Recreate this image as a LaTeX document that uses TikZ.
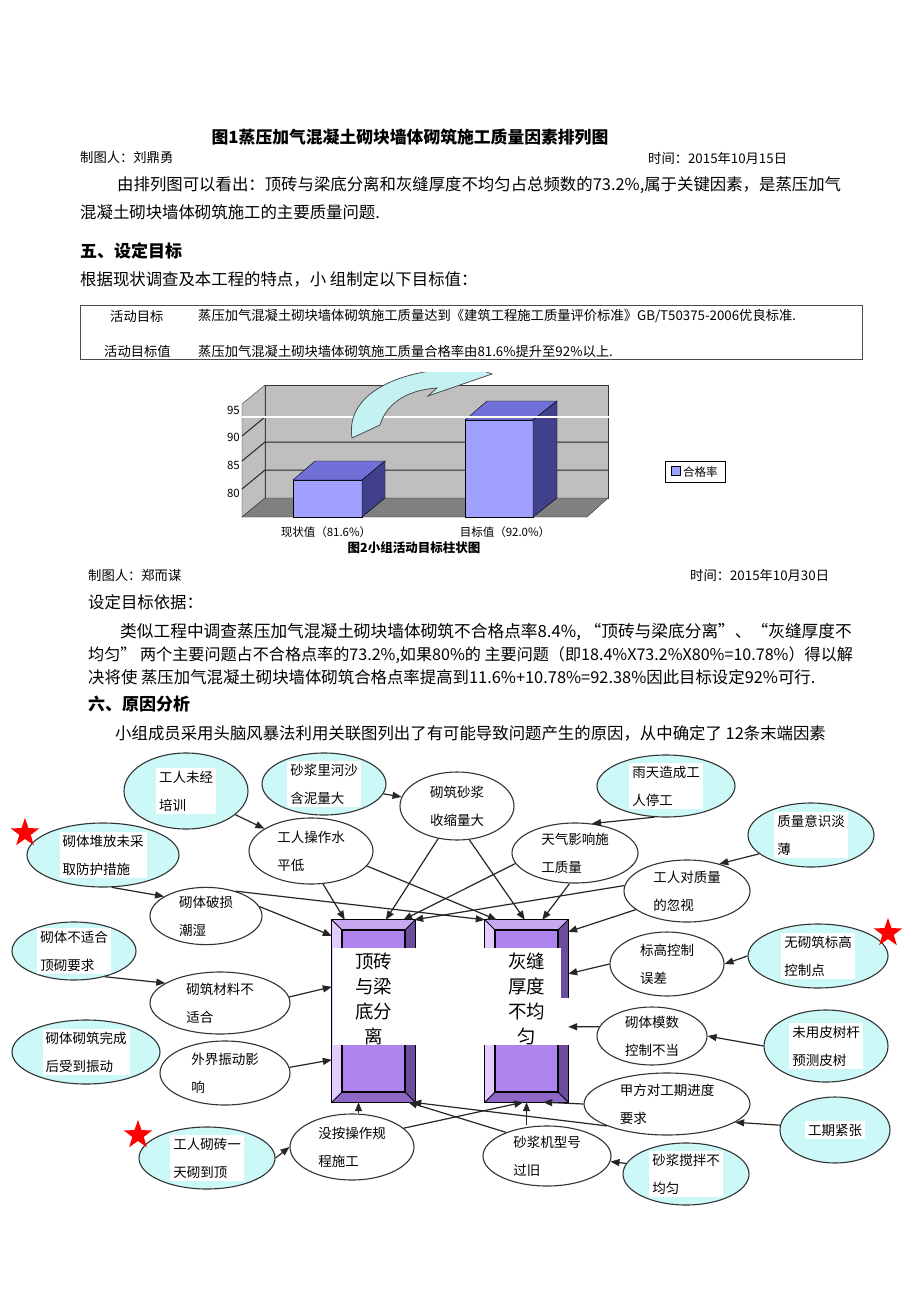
\documentclass[tikz,border=0pt]{standalone}
\usepackage{fontspec}
\setmainfont{Noto Sans CJK SC}
\usetikzlibrary{shapes.geometric,arrows.meta,calc}

\definecolor{causecyan}{HTML}{CCF8F8}
\definecolor{barfront}{HTML}{A0A0FF}
\definecolor{bartop}{HTML}{7070D8}
\definecolor{barside}{HTML}{40408C}
\definecolor{bvtop}{HTML}{C8A8F0}
\definecolor{bvleft}{HTML}{E2CCFF}
\definecolor{bvright}{HTML}{6C4C9C}
\definecolor{bvbot}{HTML}{8E66C6}
\definecolor{bvface}{HTML}{B084EE}
\definecolor{arrowcyan}{HTML}{C4F2F2}

\tikzset{
  cause/.style={ellipse, draw=black!80, line width=1.1pt, fill=white, inner sep=0pt,
    font=\fontsize{13.5}{28}\selectfont, align=left},
  rootcause/.style={cause, fill=causecyan},
  wlabel/.style={fill=white, inner sep=3pt, font=\fontsize{13.5}{28}\selectfont, align=left},
  arr/.style={-{Triangle[length=9pt,width=7pt]}, line width=1.2pt, draw=black!85},
  redstar/.style={star, star points=5, star point ratio=2.5, fill=red, minimum size=30pt, inner sep=0pt},
  probbox/.style={rectangle, minimum width=83pt, minimum height=182pt, inner sep=0pt},
  probtext/.style={fill=white, align=center, font=\fontsize{18.5}{25}\selectfont, inner sep=0pt},
  body/.style={anchor=west, inner sep=0pt, font=\fontsize{16.4}{20}\selectfont},
  small/.style={anchor=west, inner sep=0pt, font=\fontsize{13.3}{16}\selectfont},
  head/.style={anchor=west, inner sep=0pt, font=\bfseries\fontsize{17}{20}\selectfont},
  chartlbl/.style={inner sep=0pt, font=\fontsize{11.5}{14}\selectfont},
}

\begin{document}
\begin{tikzpicture}[x=1pt,y=-1pt]
\useasboundingbox (0,0) rectangle (920,1302);
\fill[white] (0,0) rectangle (920,1302);

% report text
\node[inner sep=0pt, font=\bfseries\fontsize{16.8}{18}\selectfont] (fig1) at (410,137) {图1蒸压加气混凝土砌块墙体砌筑施工质量因素排列图};
\node[small] (maker1) at (80,158) {制图人：刘鼎勇};
\node[small] (date1) at (648,158) {时间：2015年10月15日};
\node[body] (par1a) at (117,185) {由排列图可以看出：顶砖与梁底分离和灰缝厚度不均匀占总频数的73.2\%,属于关键因素，是蒸压加气};
\node[body] (par1b) at (80,212) {混凝土砌块墙体砌筑施工的主要质量问题.};
\node[head] (sec5) at (80,251) {五、设定目标};
\node[body] (par2) at (80,279) {根据现状调查及本工程的特点，小 组制定以下目标值：};

% target table
\draw[black!70, line width=0.8pt] (80,305) rectangle (862,359);
\node[small] (goalkey) at (110,316) {活动目标};
\node[small] (goaltxt) at (198,316) {蒸压加气混凝土砌块墙体砌筑施工质量达到《建筑工程施工质量评价标准》GB/T50375-2006优良标准.};
\node[small] (valkey) at (104,351) {活动目标值};
\node[small] (valtxt) at (198,351) {蒸压加气混凝土砌块墙体砌筑施工质量合格率由81.6\%提升至92\%以上.};

% bar chart
\filldraw[fill=gray!50, draw=black!80] (265,385) rectangle (608,498);
\filldraw[fill=gray!50, draw=black!80] (242,404) -- (265,385) -- (265,498) -- (242,517) -- cycle;
\filldraw[fill=gray, draw=black!80] (242,517) -- (265,498) -- (608,498) -- (587,517) -- cycle;
\foreach \g in {417,442,470}
  \draw[line width=1pt, black!85] (242,\g+19) -- (265,\g) -- (608,\g);
\foreach \v/\g in {95/410,90/437,85/465,80/493}
  \node[chartlbl, anchor=east] (tick\v) at (240,\g) {\v};
% bars
\filldraw[fill=barfront, draw=black] (293,480) rectangle (362,517);
\filldraw[fill=bartop, draw=black] (293,480) -- (315,461) -- (385,461) -- (362,480) -- cycle;
\filldraw[fill=barside, draw=black] (362,480) -- (385,461) -- (385,498) -- (362,517) -- cycle;
\filldraw[fill=barfront, draw=black] (465,420) rectangle (533,517);
\filldraw[fill=bartop, draw=black] (465,420) -- (487,401) -- (557,401) -- (533,420) -- cycle;
\filldraw[fill=barside, draw=black] (533,420) -- (557,401) -- (557,498) -- (533,517) -- cycle;
\draw[white, line width=1.6pt] (242,417) -- (610,417);
% curved arrow
\begin{scope}
  \clip (200,372) rectangle (700,560);
  \filldraw[fill=arrowcyan, draw=black!70, line width=0.8pt]
    (352,438) .. controls (346,400) and (385,376) .. (438,370) -- (440,355) -- (492,374)
    -- (428,396) -- (437,388) .. controls (405,390) and (386,405) .. (380,425) -- cycle;
\end{scope}
\draw[black, line width=0.8pt] (665,461) rectangle (725,482);
\filldraw[fill=barfront, draw=black] (671,466) rectangle (680,475);
\node[chartlbl, anchor=west] (legend) at (683,472) {合格率};
\node[chartlbl] (cat1) at (326,532) {现状值（81.6\%）};
\node[chartlbl] (cat2) at (505,532) {目标值（92.0\%）};
\node[inner sep=0pt, font=\bfseries\fontsize{12.5}{14}\selectfont] (fig2) at (414,548) {图2小组活动目标柱状图};

\node[small] (maker2) at (88,575) {制图人：郑而谋};
\node[small] (date2) at (690,575) {时间：2015年10月30日};
\node[body] (basis) at (88,602) {设定目标依据：};
\node[body, font=\fontsize{16.7}{20}\selectfont] (par3a) at (120,632) {类似工程中调查蒸压加气混凝土砌块墙体砌筑不合格点率8.4\%, “顶砖与梁底分离”、“灰缝厚度不};
\node[body, font=\fontsize{16.1}{20}\selectfont] (par3b) at (88,655) {均匀” 两个主要问题占不合格点率的73.2\%,如果80\%的 主要问题（即18.4\%X73.2\%X80\%=10.78\%）得以解};
\node[body] (par3c) at (88,677) {决将使 蒸压加气混凝土砌块墙体砌筑合格点率提高到11.6\%+10.78\%=92.38\%因此目标设定92\%可行.};
\node[head] (sec6) at (88,704) {六、原因分析};
\node[body] (par4) at (115,733) {小组成员采用头脑风暴法利用关联图列出了有可能导致问题产生的原因，从中确定了 12条末端因素};

% relation diagram: causes
\node[rootcause, minimum width=124pt, minimum height=76pt] (untrained) at (186,791) {};
\node[wlabel] (untrained-t) at (untrained) {工人未经\\培训};
\node[rootcause, minimum width=124pt, minimum height=62pt] (mudsand) at (324,784) {};
\node[wlabel] (mudsand-t) at (mudsand) {砂浆里河沙\\含泥量大};
\node[cause, minimum width=114pt, minimum height=68pt] (shrink) at (457,806) {砌筑砂浆\\收缩量大};
\node[rootcause, minimum width=138pt, minimum height=62pt] (rainy) at (666,786) {};
\node[wlabel] (rainy-t) at (rainy) {雨天造成工\\人停工};
\node[rootcause, minimum width=126pt, minimum height=64pt] (awareness) at (811,835) {};
\node[wlabel] (awareness-t) at (awareness) {质量意识淡\\薄\phantom{量意识淡}};
\node[rootcause, minimum width=152pt, minimum height=64pt] (stacking) at (103,855) {};
\node[wlabel] (stacking-t) at (stacking) {砌体堆放未采\\取防护措施};
\node[cause, minimum width=124pt, minimum height=66pt] (skill) at (311,851) {工人操作水\\平低\phantom{操作水}};
\node[cause, minimum width=126pt, minimum height=60pt] (weather) at (575,853) {天气影响施\\工质量\phantom{影响}};
\node[cause, minimum width=126pt, minimum height=62pt] (neglect) at (687,891) {工人对质量\\的忽视\phantom{质量}};
\node[cause, minimum width=112pt, minimum height=56pt] (damp) at (206,916) {砌体破损\\潮湿\phantom{破损}};
\node[rootcause, minimum width=124pt, minimum height=58pt] (unfit) at (74,951) {};
\node[wlabel] (unfit-t) at (unfit) {砌体不适合\\顶砌要求\phantom{合}};
\node[cause, minimum width=140pt, minimum height=62pt] (material) at (220,1003) {砌筑材料不\\适合\phantom{材料不}};
\node[rootcause, minimum width=148pt, minimum height=64pt] (vibrated) at (86,1052) {};
\node[wlabel] (vibrated-t) at (vibrated) {砌体砌筑完成\\后受到振动\phantom{成}};
\node[cause, minimum width=130pt, minimum height=64pt] (vibration) at (225,1073) {外界振动影\\响\phantom{界振动影}};
\node[cause, minimum width=114pt, minimum height=64pt] (level) at (667,964) {标高控制\\误差\phantom{控制}};
\node[rootcause, minimum width=140pt, minimum height=64pt] (nolevel) at (818,956) {};
\node[wlabel] (nolevel-t) at (nolevel) {无砌筑标高\\控制点\phantom{标高}};
\node[cause, minimum width=110pt, minimum height=58pt] (modulus) at (652,1036) {砌体模数\\控制不当};
\node[rootcause, minimum width=124pt, minimum height=72pt] (norod) at (826,1046) {};
\node[wlabel] (norod-t) at (norod) {未用皮树杆\\预测皮树\phantom{杆}};
\node[cause, minimum width=166pt, minimum height=62pt] (owner) at (667,1104) {甲方对工期进度\\要求\phantom{对工期进度}};
\node[rootcause, minimum width=110pt, minimum height=66pt] (tight) at (835,1130) {};
\node[wlabel] (tight-t) at (tight) {工期紧张};
\node[rootcause, minimum width=136pt, minimum height=62pt] (oneday) at (207,1158) {};
\node[wlabel] (oneday-t) at (oneday) {工人砌砖一\\天砌到顶\phantom{一}};
\node[cause, minimum width=124pt, minimum height=66pt] (rules) at (352,1147) {没按操作规\\程施工\phantom{操作}};
\node[cause, minimum width=128pt, minimum height=60pt] (mixer) at (547,1156) {砂浆机型号\\过旧\phantom{机型号}};
\node[rootcause, minimum width=126pt, minimum height=62pt] (mixing) at (686,1174) {};
\node[wlabel] (mixing-t) at (mixing) {砂浆搅拌不\\均匀\phantom{搅拌不}};

\node[redstar] (star1) at (25,833) {};
\node[redstar] (star2) at (888,933) {};
\node[redstar] (star3) at (138,1135) {};

% the two main problems
\node[probbox] (b1) at (373.5,1011) {};
\node[probbox] (b2) at (526.5,1011) {};
\foreach \b in {b1,b2} {
  \fill[bvface] ([shift={(10,10)}]\b.north west) rectangle ([shift={(-10,-10)}]\b.south east);
  \fill[bvtop] (\b.north west) -- (\b.north east) -- ([shift={(-10,10)}]\b.north east) -- ([shift={(10,10)}]\b.north west) -- cycle;
  \fill[bvleft] (\b.north west) -- ([shift={(10,10)}]\b.north west) -- ([shift={(10,-10)}]\b.south west) -- (\b.south west) -- cycle;
  \fill[bvright] (\b.north east) -- ([shift={(-10,10)}]\b.north east) -- ([shift={(-10,-10)}]\b.south east) -- (\b.south east) -- cycle;
  \fill[bvbot] (\b.south west) -- ([shift={(10,-10)}]\b.south west) -- ([shift={(-10,-10)}]\b.south east) -- (\b.south east) -- cycle;
  \draw[line width=0.8pt] (\b.north west) -- ([shift={(10,10)}]\b.north west)
    (\b.north east) -- ([shift={(-10,10)}]\b.north east)
    (\b.south west) -- ([shift={(10,-10)}]\b.south west)
    (\b.south east) -- ([shift={(-10,-10)}]\b.south east);
  \draw[line width=1pt] (\b.north west) rectangle (\b.south east);
  \draw[line width=1.5pt] ([shift={(10,10)}]\b.north west) rectangle ([shift={(-10,-10)}]\b.south east);
}
\fill[white] (333,948) rectangle (420,1045);
\fill[white] (482,948) rectangle (561,1045);
\fill[white] (561,998) rectangle (571,1045);
\draw[line width=1pt] ([yshift=-52]b1.north west) -- ([yshift=-113]b1.north west);
\node[probtext] (b1-t) at (373.5,999) {顶砖\\与梁\\底分\\离};
\node[probtext] (b2-t) at (526.5,999) {灰缝\\厚度\\不均\\匀};

% connectors
\draw[arr] (untrained) -- (skill);
\draw[arr] (mudsand) -- (shrink);
\draw[arr] (rainy.-110) -- (weather.60);
\draw[arr] (awareness.200) -- (neglect.40);
\draw[arr] (stacking.-75) -- (damp.155);
\draw[arr] (unfit.-40) -- (material.160);
\draw[arr] (skill.-70) -- ([xshift=13]b1.north west);
\draw[arr] (skill.-15) -- ([xshift=12]b2.north west);
\draw[arr] (shrink.-120) -- ([xshift=54]b1.north west);
\draw[arr] (shrink.-70) -- ([xshift=40]b2.north west);
\draw[arr] (weather.190) -- ([xshift=-12]b1.north east);
\draw[arr] (weather.-100) -- ([xshift=-26]b2.north east);
\draw[arr] (neglect.175) -- ([xshift=-1]b1.north east);
\draw[arr] (neglect.200) -- ([yshift=-12]b2.north east);
\draw[arr] (damp.10) -- ([yshift=-16]b1.north west);
\draw[arr] (damp.40) -- (b2.north west);
\draw[arr] (material.5) -- ([yshift=-67]b1.north west);
\draw[arr] (vibration.5) -- ([yshift=-140]b1.north west);
\draw[arr] (nolevel.west) -- (level.east);
\draw[arr] (level.west) -- ([yshift=-54]b2.north east);
\draw[arr] (norod.west) -- (modulus.east);
\draw[arr] (modulus.170) -- ([yshift=-107]b2.north east);
\draw[arr] (tight.175) -- (owner.-15);
\draw[arr] (owner.180) -- ([xshift=-25]b2.south east);
\draw[arr] (owner.200) -- ([xshift=-3]b1.south east);
\draw[arr] ([xshift=-15]b1.south |- rules.north) -- ([xshift=-15]b1.south);
\draw[arr] (rules.20) -- ([xshift=-45]b2.south east);
\draw[arr] (b2.south |- mixer.north) -- (b2.south);
\draw[arr] (mixer.150) -- ([xshift=-7]b1.south east);
\draw[arr] (mixing.170) -- (mixer.-5);
\draw[arr] (oneday.east) -- (rules.west);
\end{tikzpicture}
\end{document}
